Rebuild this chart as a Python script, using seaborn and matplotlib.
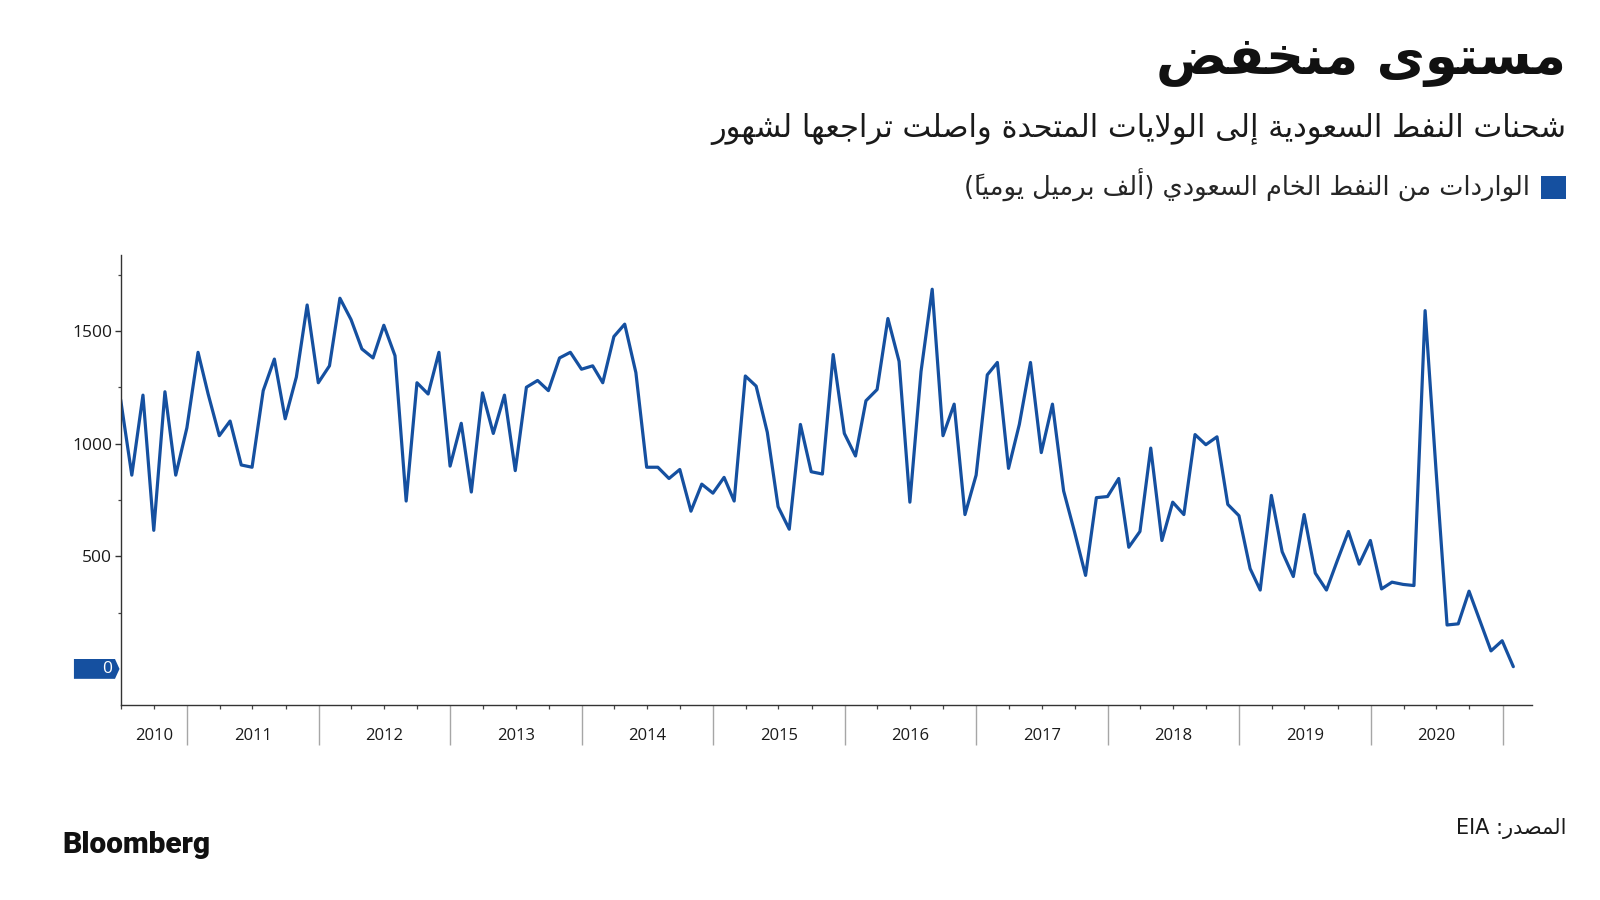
import pandas as pd
import numpy as np
import matplotlib
matplotlib.use('Agg')
import matplotlib.pyplot as plt
import matplotlib.dates as mdates
from matplotlib.patches import Polygon, Patch
from matplotlib.ticker import NullFormatter
from matplotlib.transforms import blended_transform_factory
import seaborn as sns

# US imports of Saudi crude, thousand barrels per day, monthly Jun 2010 - Jan 2021
imports_kbd = [
    1195, 860, 1215, 615, 1230, 860, 1070,                                   # 2010
    1405, 1220, 1035, 1100, 905, 895, 1235, 1375, 1110, 1295, 1615, 1270,    # 2011
    1345, 1645, 1550, 1420, 1380, 1525, 1390, 745, 1270, 1220, 1405, 900,    # 2012
    1090, 785, 1225, 1045, 1215, 880, 1250, 1280, 1235, 1380, 1405, 1330,    # 2013
    1345, 1270, 1475, 1530, 1315, 895, 895, 845, 885, 700, 820, 780,         # 2014
    850, 745, 1300, 1255, 1050, 720, 620, 1085, 875, 865, 1395, 1045,        # 2015
    945, 1190, 1240, 1555, 1365, 740, 1320, 1685, 1035, 1175, 685, 860,      # 2016
    1305, 1360, 890, 1085, 1360, 960, 1175, 790, 610, 415, 760, 765,         # 2017
    845, 540, 610, 980, 570, 740, 685, 1040, 995, 1030, 730, 680,            # 2018
    445, 350, 770, 520, 410, 685, 425, 350, 480, 610, 465, 570,              # 2019
    355, 385, 375, 370, 1590, 890, 195, 200, 345, 210, 80, 125,              # 2020
    10,                                                                      # 2021
]
first_month_end = '2010-06-30'
year_labels = ['2010', '2011', '2012', '2013', '2014', '2015',
               '2016', '2017', '2018', '2019', '2020']
ytick_values = [500, 1000, 1500]
yminor_values = [250, 750, 1250, 1750]

title = 'مستوى منخفض'
subtitle = 'شحنات النفط السعودية إلى الولايات المتحدة واصلت تراجعها لشهور'
legend_label = 'الواردات من النفط الخام السعودي (ألف برميل يومياً)'
source = 'المصدر: EIA'
brand = 'Bloomberg'

BLUE = '#1550a0'


# --- minimal arabic shaping (matplotlib has no complex text layout) ---
# presentation forms B start at U+FE80 and follow the letter order 0621-063A, 0641-064A
_letters = [chr(c) for c in range(0x621, 0x63B)] + [chr(c) for c in range(0x641, 0x64B)]
_nforms = [1, 2, 2, 2, 2, 4, 2, 4, 2, 4, 4, 4, 4, 4, 2, 2, 2, 2, 4, 4, 4, 4, 4, 4, 4, 4,
           4, 4, 4, 4, 4, 4, 4, 2, 2, 4]
FORMS = {}
_cp = 0xFE80
for _ch, _n in zip(_letters, _nforms):
    FORMS[_ch] = [chr(_cp + k) for k in range(_n)]
    _cp += _n
for _alef in 'آأإا':
    FORMS['ل' + _alef] = [chr(_cp), chr(_cp + 1)]
    _cp += 2
MARKS = {chr(c) for c in range(0x64B, 0x653)}
MIRROR = {'(': ')', ')': '('}


def _jtype(tok):
    if tok in MARKS:
        return 'T'
    n = len(FORMS.get(tok, []))
    return {4: 'D', 2: 'R'}.get(n, 'U')


def shape_ar(text):
    toks = []
    i = 0
    while i < len(text):
        if text[i] == 'ل' and i + 1 < len(text) and text[i + 1] in 'آأإا':
            toks.append(text[i:i + 2])
            i += 2
        else:
            toks.append(text[i])
            i += 1
    types = [_jtype(t) for t in toks]
    out = []
    for k, t in enumerate(toks):
        if t not in FORMS:
            out.append(t)
            continue
        p = k - 1
        while p >= 0 and types[p] == 'T':
            p -= 1
        n = k + 1
        while n < len(toks) and types[n] == 'T':
            n += 1
        jp = p >= 0 and types[p] == 'D' and types[k] in 'DR'
        jn = n < len(toks) and types[k] == 'D' and types[n] in 'DR'
        idx = 3 if (jp and jn) else 1 if jp else 2 if jn else 0
        out.append(FORMS[t][idx])
    # visual order: runs of latin stay LTR, everything else reversed
    runs = []
    for ch in out:
        ltr = ch.isascii() and ch.isalnum()
        if runs and runs[-1][0] == ltr:
            runs[-1][1].append(ch)
        else:
            runs.append((ltr, [ch]))
    vis = ''
    for ltr, chars in reversed(runs):
        if ltr:
            vis += ''.join(chars)
        else:
            vis += ''.join(MIRROR.get(ch, ch) for ch in reversed(chars))
    return vis


df = pd.DataFrame({
    'date': pd.date_range(first_month_end, periods=len(imports_kbd), freq='ME'),
    'imports': imports_kbd,
})

sns.set_style('white')
plt.rcParams['font.family'] = ['DejaVu Sans']

fig = plt.figure(figsize=(16, 9), dpi=100)
ax = fig.add_axes([0.0754, 0.2167, 0.8819, 0.5])

sns.lineplot(data=df, x='date', y='imports', ax=ax, color=BLUE, linewidth=2.3, legend=False)

x_left = df['date'].iloc[0]
x_right = pd.Timestamp('2021-03-23')
ax.set_xlim(x_left, x_right)
ax.set_ylim(-160, 1837)

for side in ['top', 'right']:
    ax.spines[side].set_visible(False)
for side in ['left', 'bottom']:
    ax.spines[side].set_color('#333333')
    ax.spines[side].set_linewidth(1.0)

ax.set_xlabel('')
ax.set_ylabel('')

# x axis: long grey separators at year starts, short ticks on quarters
ax.xaxis.set_major_locator(mdates.YearLocator())
ax.xaxis.set_minor_locator(mdates.MonthLocator(bymonth=[1, 4, 7, 10]))
ax.xaxis.set_major_formatter(NullFormatter())
ax.xaxis.set_minor_formatter(NullFormatter())
ax.tick_params(axis='x', which='both', bottom=True, direction='out')
ax.tick_params(axis='x', which='major', length=29, width=1.0, color='#a6a6a6')
ax.tick_params(axis='x', which='minor', length=3, width=0.9, color='#444444')

xy_trans = blended_transform_factory(ax.transData, ax.transAxes)
for lab in year_labels:
    start = max(pd.Timestamp(f'{lab}-01-01'), x_left)
    end = min(pd.Timestamp(f'{int(lab) + 1}-01-01'), x_right)
    mid = start + (end - start) / 2
    ax.text(mdates.date2num(mid), -0.069, lab, transform=xy_trans, ha='center', va='center',
            fontsize=12, family='Open Sans', color='#1a1a1a')

# y axis
ax.set_yticks(ytick_values)
ax.set_yticks(yminor_values, minor=True)
ax.set_yticklabels([str(v) for v in ytick_values], family='Open Sans', fontsize=12.5, color='#1a1a1a')
ax.tick_params(axis='y', which='both', left=True, direction='out')
ax.tick_params(axis='y', which='major', length=4, width=1.0, color='#333333', pad=2)
ax.tick_params(axis='y', which='minor', length=2.5, width=0.9, color='#444444')

# blue tag marking zero
tag_trans = blended_transform_factory(ax.transAxes, ax.transData)
tag = Polygon([(-0.0331, -44), (-0.0040, -44), (-0.0008, 0), (-0.0040, 44), (-0.0331, 44)],
              closed=True, facecolor=BLUE, edgecolor='none', transform=tag_trans, clip_on=False)
ax.add_patch(tag)
ax.text(-0.0058, 0, '0', transform=tag_trans, ha='right', va='center', color='white',
        fontsize=12.5, family='Open Sans')

# header
fig.text(0.979, 0.932, shape_ar(title), ha='right', va='center', fontsize=38,
         fontweight='bold', color='#111111')
fig.text(0.979, 0.857, shape_ar(subtitle), ha='right', va='center', fontsize=22,
         color='#1a1a1a')
fig.legend([Patch(facecolor=BLUE, edgecolor='none')], [shape_ar(legend_label)],
           loc='center right', bbox_to_anchor=(0.979, 0.7937), markerfirst=False,
           frameon=False, handlelength=1.0, handleheight=1.0, handletextpad=0.4,
           borderpad=0, borderaxespad=0, prop={'size': 18.5})

# footer
fig.text(0.979, 0.079, shape_ar(source), ha='right', va='center', fontsize=15, color='#1a1a1a')
fig.text(0.039, 0.061, brand, ha='left', va='center', fontsize=21.5, fontweight='heavy',
         family='Roboto', color='#111111')

fig.savefig('out.png', dpi=100, facecolor='white')
